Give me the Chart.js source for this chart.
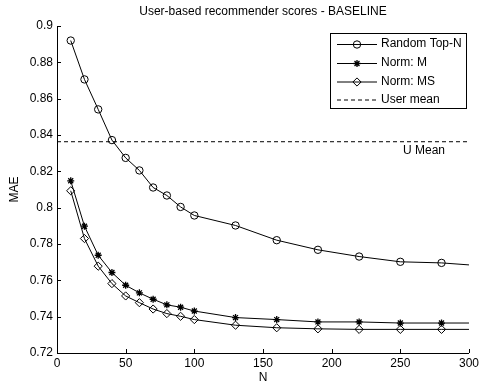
<!DOCTYPE html>
<html>
<head>
<meta charset="utf-8">
<script src="https://cdn.jsdelivr.net/npm/chart.js@4/dist/chart.umd.min.js"></script>
<style>
  html, body { margin: 0; padding: 0; background: #fff; }
  #wrap { width: 482px; height: 386px; }
</style>
</head>
<body>
<div id="wrap"><canvas id="chart" width="482" height="386"></canvas></div>
<script>
// Neighbourhood size N and mean absolute error for each method
const nValues    = [10, 20, 30, 40, 50, 60, 70, 80, 90, 100, 130, 160, 190, 220, 250, 280, 300];
const randomTopN = [0.8920, 0.8706, 0.8541, 0.8372, 0.8274, 0.8205, 0.8111, 0.8067, 0.8004, 0.7957, 0.7902, 0.7821, 0.7768, 0.7731, 0.7702, 0.7696, 0.7685];
const normM      = [0.8148, 0.7898, 0.7738, 0.7643, 0.7573, 0.7531, 0.7496, 0.7465, 0.7452, 0.7431, 0.7395, 0.7384, 0.7371, 0.7371, 0.7365, 0.7365, 0.7365];
const normMS     = [0.8093, 0.7830, 0.7678, 0.7582, 0.7514, 0.7477, 0.7442, 0.7417, 0.7402, 0.7384, 0.7353, 0.7339, 0.7333, 0.7330, 0.7330, 0.7330, 0.7330];
const userMean   = 0.8363;
const xTicks     = [0, 50, 100, 150, 200, 250, 300];
const yTicks     = [0.72, 0.74, 0.76, 0.78, 0.8, 0.82, 0.84, 0.86, 0.88, 0.9];

const FONT = '"Liberation Sans", Arial, Helvetica, sans-serif';
const toPoints = ys => ys.map((y, i) => ({ x: nValues[i], y }));
// the closing point at N = 300 carries no marker
const markerRadius = r => ctx => (ctx.dataIndex === nValues.length - 1 ? 0 : r);
const MARKER = { circle: [3.7, 1], star: [3.5, 1.3], rectRot: [4.1, 1] };

function series(label, values, style) {
  const [r, w] = MARKER[style];
  return {
    label,
    data: toPoints(values),
    showLine: true,
    borderColor: '#000',
    borderWidth: 1,
    backgroundColor: 'rgba(0,0,0,0)',
    pointStyle: style,
    pointRadius: markerRadius(r),
    pointBorderColor: '#000',
    pointBackgroundColor: 'rgba(0,0,0,0)',
    pointBorderWidth: w,
    pointHoverRadius: markerRadius(r),
    tension: 0
  };
}

const datasets = [
  series('Random Top-N', randomTopN, 'circle'),
  series('Norm: M', normM, 'star'),
  series('Norm: MS', normMS, 'rectRot'),
  {
    label: 'User mean',
    data: [{ x: xTicks[0], y: userMean }, { x: xTicks[xTicks.length - 1], y: userMean }],
    showLine: true,
    borderColor: '#000',
    borderWidth: 1,
    borderDash: [4, 3],
    pointRadius: 0,
    pointHoverRadius: 0
  }
];

// Title, inward tick marks, boxed legend and the "U Mean" note
const decorations = {
  id: 'decorations',
  afterDraw(chart) {
    const ctx = chart.ctx;
    const xs = chart.scales.x, ys = chart.scales.y;
    const area = chart.chartArea;
    ctx.save();
    ctx.fillStyle = '#000';
    ctx.strokeStyle = '#000';
    ctx.lineWidth = 1;
    ctx.font = '12px ' + FONT;

    // title
    ctx.textAlign = 'center';
    ctx.textBaseline = 'middle';
    ctx.fillText('User-based recommender scores - BASELINE', (area.left + area.right) / 2, 12);

    // tick marks pointing into the plot
    ctx.beginPath();
    xTicks.forEach(v => {
      const px = Math.round(xs.getPixelForValue(v)) + 0.5;
      ctx.moveTo(px, area.bottom);
      ctx.lineTo(px, area.bottom - 4);
    });
    yTicks.forEach(v => {
      const py = Math.round(ys.getPixelForValue(v)) + 0.5;
      ctx.moveTo(area.left, py);
      ctx.lineTo(area.left + 4, py);
    });
    ctx.stroke();

    // label under the user-mean line
    ctx.textAlign = 'center';
    ctx.textBaseline = 'middle';
    ctx.fillText('U Mean', 424, ys.getPixelForValue(userMean) + 9);

    // legend
    const bx = 330.5, by = 33.5, bw = 136, bh = 75;
    ctx.fillStyle = '#fff';
    ctx.fillRect(bx, by, bw, bh);
    ctx.strokeRect(bx, by, bw, bh);
    const rows = [44, 63, 81.5, 99.5];
    const x0 = 337, x1 = 377, xm = 357;
    chart.data.datasets.forEach((ds, i) => {
      const y = rows[i] + 0.5;
      ctx.save();
      ctx.beginPath();
      ctx.setLineDash(ds.borderDash || []);
      ctx.moveTo(x0, y);
      ctx.lineTo(x1, y);
      ctx.stroke();
      ctx.restore();
      if (ds.pointStyle) {
        const [r, w] = MARKER[ds.pointStyle];
        ctx.save();
        ctx.strokeStyle = '#000';
        ctx.fillStyle = 'rgba(0,0,0,0)';
        ctx.lineWidth = w;
        Chart.helpers.drawPoint(ctx, { pointStyle: ds.pointStyle, radius: r, rotation: 0, borderWidth: w }, xm, y);
        ctx.restore();
      }
      ctx.fillStyle = '#000';
      ctx.textAlign = 'left';
      ctx.textBaseline = 'middle';
      ctx.fillText(ds.label, 381, rows[i]);
    });
    ctx.restore();
  }
};

new Chart(document.getElementById('chart'), {
  type: 'scatter',
  data: { datasets },
  options: {
    responsive: false,
    animation: false,
    events: [],
    layout: { padding: { top: 26, right: 10, left: 0, bottom: 0 } },
    plugins: { legend: { display: false }, tooltip: { enabled: false }, title: { display: false } },
    scales: {
      x: {
        type: 'linear',
        min: 0,
        max: 300,
        afterFit: s => { s.height = 33; },
        afterBuildTicks: s => { s.ticks = xTicks.map(v => ({ value: v })); },
        grid: { display: false, drawTicks: false },
        border: { display: true, color: '#000', width: 1 },
        ticks: { color: '#000', font: { family: FONT, size: 12 }, padding: 3, maxRotation: 0, callback: v => String(v) },
        title: { display: true, text: 'N', color: '#000', font: { family: FONT, size: 12 }, padding: { top: 0, bottom: 1 } }
      },
      y: {
        type: 'linear',
        min: 0.72,
        max: 0.9,
        afterFit: s => { s.width = 57; },
        afterBuildTicks: s => { s.ticks = yTicks.map(v => ({ value: v })); },
        grid: { display: false, drawTicks: false },
        border: { display: true, color: '#000', width: 1 },
        ticks: { color: '#000', font: { family: FONT, size: 12 }, padding: 4, callback: v => String(Math.round(v * 100) / 100) },
        title: { display: true, text: 'MAE', color: '#000', font: { family: FONT, size: 12 }, padding: { top: 7, bottom: 0 } }
      }
    }
  },
  plugins: [decorations]
});
</script>
</body>
</html>
